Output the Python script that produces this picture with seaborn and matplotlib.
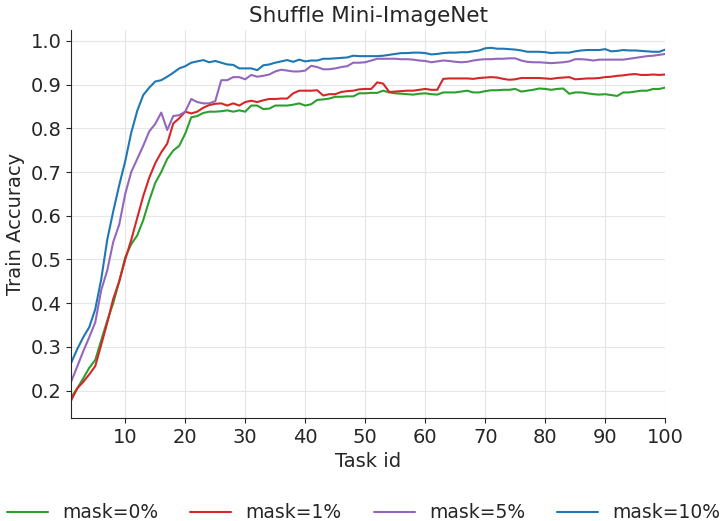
import numpy as np
import pandas as pd
import seaborn as sns
import matplotlib
matplotlib.use("Agg")
import matplotlib.pyplot as plt

tasks = list(range(1, 101))

acc_mask0 = [
    0.185, 0.205, 0.228, 0.252, 0.270, 0.315, 0.360, 0.400, 0.450, 0.505,
    0.535, 0.555, 0.590, 0.635, 0.675, 0.700, 0.730, 0.749, 0.760, 0.788,
    0.825, 0.828, 0.835, 0.838, 0.838, 0.839, 0.841, 0.838, 0.841, 0.838,
    0.852, 0.852, 0.844, 0.845, 0.852, 0.852, 0.852, 0.854, 0.857, 0.852,
    0.855, 0.865, 0.866, 0.868, 0.872, 0.872, 0.873, 0.873, 0.880, 0.880,
    0.881, 0.881, 0.886, 0.882, 0.880, 0.879, 0.878, 0.877, 0.879, 0.880,
    0.878, 0.877, 0.882, 0.882, 0.882, 0.884, 0.886, 0.882, 0.882, 0.885,
    0.887, 0.887, 0.888, 0.888, 0.890, 0.884, 0.886, 0.888, 0.891, 0.890,
    0.888, 0.890, 0.891, 0.879, 0.882, 0.882, 0.880, 0.878, 0.877, 0.878,
    0.876, 0.874, 0.882, 0.882, 0.884, 0.886, 0.886, 0.890, 0.890, 0.893,
]

acc_mask1 = [
    0.178, 0.205, 0.220, 0.237, 0.256, 0.305, 0.355, 0.410, 0.450, 0.500,
    0.545, 0.595, 0.645, 0.687, 0.720, 0.745, 0.765, 0.811, 0.823, 0.838,
    0.834, 0.838, 0.847, 0.853, 0.856, 0.857, 0.852, 0.857, 0.852, 0.860,
    0.863, 0.860, 0.864, 0.867, 0.867, 0.868, 0.868, 0.880, 0.886, 0.886,
    0.886, 0.887, 0.875, 0.878, 0.878, 0.883, 0.885, 0.886, 0.889, 0.890,
    0.890, 0.905, 0.902, 0.883, 0.884, 0.885, 0.886, 0.886, 0.888, 0.890,
    0.888, 0.888, 0.913, 0.914, 0.914, 0.914, 0.914, 0.913, 0.915, 0.916,
    0.917, 0.916, 0.913, 0.911, 0.912, 0.915, 0.915, 0.915, 0.915, 0.914,
    0.913, 0.915, 0.916, 0.917, 0.912, 0.913, 0.914, 0.914, 0.915, 0.917,
    0.918, 0.920, 0.921, 0.923, 0.924, 0.922, 0.922, 0.923, 0.922, 0.923,
]

acc_mask5 = [
    0.221, 0.255, 0.290, 0.322, 0.356, 0.430, 0.475, 0.540, 0.580, 0.650,
    0.700, 0.730, 0.760, 0.793, 0.810, 0.836, 0.796, 0.828, 0.830, 0.838,
    0.867, 0.860, 0.857, 0.857, 0.862, 0.910, 0.910, 0.917, 0.917, 0.912,
    0.922, 0.918, 0.920, 0.923, 0.930, 0.934, 0.932, 0.930, 0.930, 0.932,
    0.943, 0.940, 0.935, 0.935, 0.937, 0.940, 0.942, 0.950, 0.950, 0.951,
    0.955, 0.959, 0.959, 0.959, 0.959, 0.958, 0.958, 0.957, 0.955, 0.954,
    0.951, 0.953, 0.955, 0.954, 0.952, 0.951, 0.952, 0.955, 0.957, 0.958,
    0.958, 0.959, 0.959, 0.960, 0.960, 0.955, 0.952, 0.951, 0.951, 0.950,
    0.949, 0.950, 0.951, 0.953, 0.958, 0.958, 0.957, 0.955, 0.957, 0.957,
    0.957, 0.957, 0.957, 0.959, 0.961, 0.963, 0.965, 0.966, 0.968, 0.970,
]

acc_mask10 = [
    0.264, 0.295, 0.322, 0.345, 0.386, 0.455, 0.545, 0.610, 0.670, 0.725,
    0.790, 0.840, 0.876, 0.893, 0.907, 0.910, 0.918, 0.927, 0.937, 0.942,
    0.950, 0.953, 0.956, 0.951, 0.954, 0.950, 0.946, 0.945, 0.937, 0.937,
    0.937, 0.933, 0.944, 0.946, 0.950, 0.953, 0.956, 0.952, 0.957, 0.953,
    0.955, 0.955, 0.959, 0.959, 0.960, 0.961, 0.962, 0.966, 0.965, 0.965,
    0.965, 0.965, 0.966, 0.968, 0.970, 0.972, 0.972, 0.973, 0.973, 0.972,
    0.969, 0.970, 0.972, 0.973, 0.973, 0.974, 0.974, 0.976, 0.978, 0.983,
    0.984, 0.982, 0.982, 0.981, 0.980, 0.978, 0.975, 0.975, 0.975, 0.974,
    0.972, 0.973, 0.973, 0.973, 0.976, 0.978, 0.979, 0.979, 0.979, 0.981,
    0.976, 0.977, 0.979, 0.978, 0.978, 0.977, 0.976, 0.975, 0.975, 0.980,
]

series_labels = ["mask=0%", "mask=1%", "mask=5%", "mask=10%"]
series_colors = ["#2ca02c", "#d62728", "#9467bd", "#1f77b4"]

df = pd.concat(
    [
        pd.DataFrame({"Task id": tasks, "Train Accuracy": vals, "mask": lab})
        for lab, vals in zip(series_labels,
                             [acc_mask0, acc_mask1, acc_mask5, acc_mask10])
    ],
    ignore_index=True,
)

sns.set_style("ticks", {"axes.grid": True, "grid.color": "#e6e6e6"})
plt.rcParams["font.family"] = ["DejaVu Sans"]

fig, ax = plt.subplots(figsize=(7.27, 5.21), dpi=100)
fig.subplots_adjust(left=0.098, right=0.915, bottom=0.198, top=0.942)

sns.lineplot(data=df, x="Task id", y="Train Accuracy", hue="mask",
             palette=dict(zip(series_labels, series_colors)),
             linewidth=1.5, ax=ax, legend=False)

ax.set_xlim(1, 100)
ax.set_xticks(range(10, 101, 10))
ax.set_yticks(np.arange(0.2, 1.01, 0.1))
ax.yaxis.set_major_formatter(matplotlib.ticker.FormatStrFormatter("%.1f"))
ax.tick_params(labelsize=14)
ax.set_xlabel("Task id", fontsize=14)
ax.set_ylabel("Train Accuracy", fontsize=14)
ax.set_title("Shuffle Mini-ImageNet", fontsize=15.5)
sns.despine(ax=ax)

handles = [plt.Line2D([], [], color=c, lw=1.5) for c in series_colors]
fig.legend(handles, series_labels, loc="lower center", ncol=4,
           frameon=False, fontsize=13.5, bbox_to_anchor=(0.5, -0.035),
           columnspacing=1.7, handlelength=2.2, handletextpad=0.75)

fig.savefig("out.png", dpi=100)
